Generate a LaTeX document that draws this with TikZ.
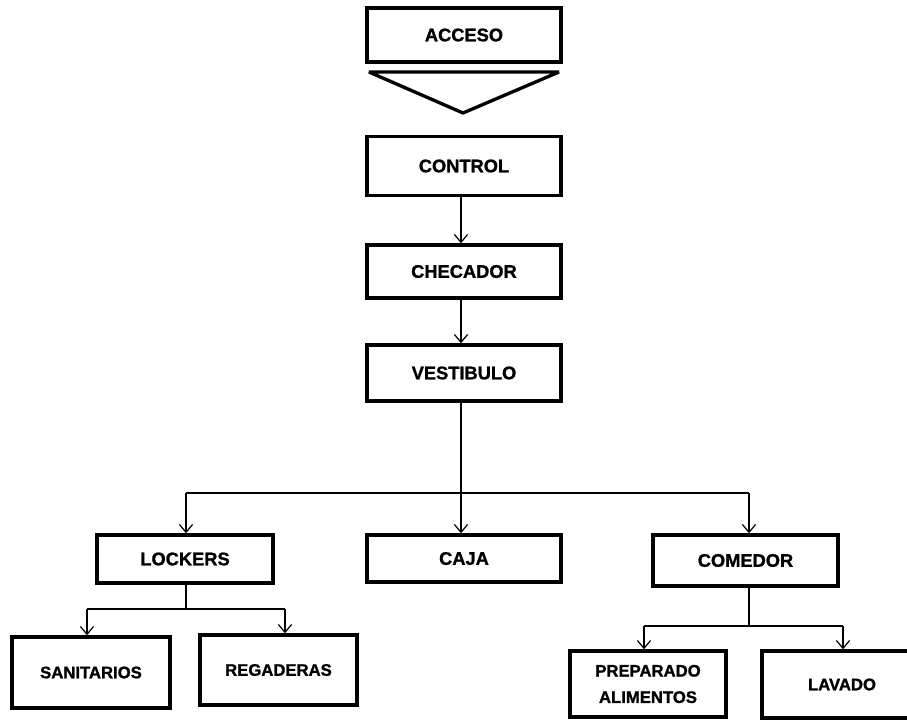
\documentclass[tikz,border=0pt]{standalone}
\usepackage{fontspec}
\setmainfont{Liberation Sans}[BoldFeatures={FakeBold=1.2}]
\usetikzlibrary{arrows.meta}
\begin{document}
\begin{tikzpicture}[x=0.02cm,y=-0.02cm,
  box/.style={draw, line width=1.9pt, align=center, inner sep=0pt,
    font=\fontsize{10.4}{15}\selectfont\bfseries},
  leaf/.style={box, font=\fontsize{9.5}{15}\selectfont\bfseries},
  link/.style={line width=0.7pt},
  arr/.style={link, -{Straight Barb[length=4.5pt,width=7.5pt,line width=0.7pt]}}]
  \fill[white] (0,0) rectangle (907,720);
  \useasboundingbox (0,0) rectangle (907,720);
  \clip (0,0) rectangle (907,720);

  % main column
  \node[box, minimum width=3.88cm, minimum height=1.08cm] (acceso) at (464,35) {ACCESO};
  \node[box, minimum width=3.88cm, minimum height=1.18cm] (control) at (464,166) {CONTROL};
  \node[box, minimum width=3.88cm, minimum height=1.06cm] (checador) at (464,271.5) {CHECADOR};
  \node[box, minimum width=3.88cm, minimum height=1.12cm] (vestibulo) at (464,373) {VESTIBULO};

  % entrance marker below ACCESO
  \draw[line width=1.9pt, line join=bevel] (369,72) -- (559,72) -- (463,113) -- cycle;

  % second level
  \node[box, minimum width=3.52cm, minimum height=0.96cm] (lockers) at (185,559) {LOCKERS};
  \node[box, minimum width=3.88cm, minimum height=0.94cm] (caja) at (464,558.5) {CAJA};
  \node[box, minimum width=3.70cm, minimum height=1.02cm] (comedor) at (745.5,560.5) {COMEDOR};

  % third level
  \node[leaf, minimum width=3.16cm, minimum height=1.42cm] (sanitarios) at (91,672.5) {SANITARIOS};
  \node[leaf, minimum width=3.14cm, minimum height=1.40cm] (regaderas) at (278.5,670) {REGADERAS};
  \node[leaf, minimum width=3.12cm, minimum height=1.32cm] (preparado) at (648,684) {PREPARADO\\ALIMENTOS};
  \node[leaf, minimum width=3.20cm, minimum height=1.34cm] (lavado) at (842,684.5) {LAVADO};

  % vertical flow
  \draw[arr] (control.south -| 461,0) -- (checador.north -| 461,0);
  \draw[arr] (checador.south -| 461,0) -- (vestibulo.north -| 461,0);

  % distribution from VESTIBULO
  \coordinate (vbus) at (461,493);
  \coordinate (lbus) at (186,493);
  \coordinate (cbus) at (749,493);
  \draw[link] (vestibulo.south -| vbus) -- (vbus);
  \draw[link] (lbus) -- (cbus);
  \draw[arr] (lbus) -- (lbus |- lockers.north);
  \draw[arr] (vbus) -- (vbus |- caja.north);
  \draw[arr] (cbus) -- (cbus |- comedor.north);

  % distribution from LOCKERS
  \coordinate (lk) at (186,609);
  \coordinate (lk1) at (87,609);
  \coordinate (lk2) at (285,609);
  \draw[link] (lockers.south -| lk) -- (lk);
  \draw[link] (lk1) -- (lk2);
  \draw[arr] (lk1) -- (lk1 |- sanitarios.north);
  \draw[arr] (lk2) -- (lk2 |- regaderas.north);

  % distribution from COMEDOR
  \coordinate (cm) at (749,626);
  \coordinate (cm1) at (644,626);
  \coordinate (cm2) at (843,626);
  \draw[link] (comedor.south -| cm) -- (cm);
  \draw[link] (cm1) -- (cm2);
  \draw[arr] (cm1) -- (cm1 |- preparado.north);
  \draw[arr] (cm2) -- (cm2 |- lavado.north);
\end{tikzpicture}
\end{document}
